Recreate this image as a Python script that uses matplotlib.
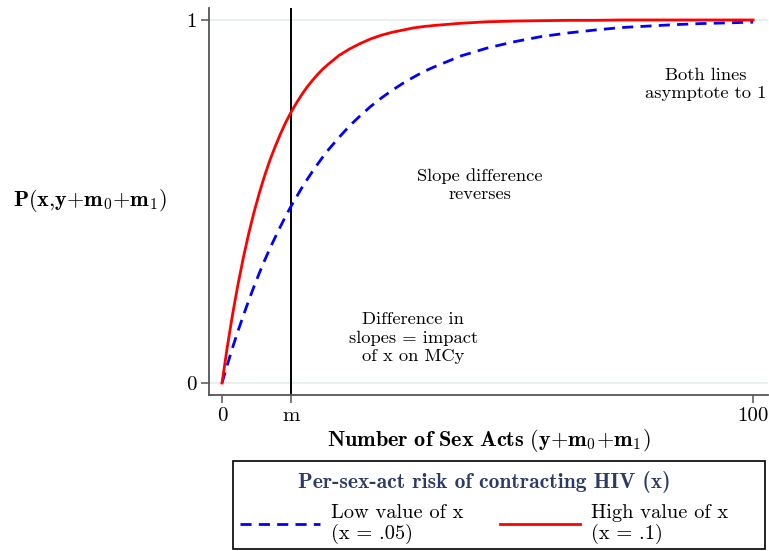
import matplotlib
matplotlib.use("Agg")
import matplotlib.pyplot as plt
from matplotlib.lines import Line2D
from matplotlib.patches import Rectangle

plt.rcParams["font.family"] = "cmr10"
plt.rcParams["mathtext.fontset"] = "cm"
plt.rcParams["axes.formatter.use_mathtext"] = True

# Number of sex acts and cumulative probability of infection for each per-act risk
acts = [0, 1, 2, 3, 4, 5, 6, 7, 8, 9, 10, 11, 12, 13, 14, 15, 16, 17, 18, 19,
        20, 22, 24, 26, 28, 30, 32, 34, 36, 38, 40, 45, 50, 55, 60, 65, 70,
        75, 80, 85, 90, 95, 100]
p_low = [0, .050, .098, .143, .185, .226, .265, .302, .337, .370, .401, .431,
         .460, .487, .512, .537, .560, .582, .603, .623, .642, .676, .708,
         .736, .762, .785, .806, .825, .842, .858, .871, .901, .923, .940,
         .954, .964, .972, .979, .983, .987, .990, .992, .994]
p_high = [0, .100, .190, .271, .344, .410, .469, .522, .570, .613, .651, .686,
          .718, .746, .771, .794, .815, .833, .850, .865, .878, .902, .920,
          .935, .948, .958, .966, .972, .978, .982, .985, .991, .995, .997,
          .998, .999, .999, 1.0, 1.0, 1.0, 1.0, 1.0, 1.0]
m_value = 13

x_ticks = [0, m_value, 100]
x_tick_labels = ["0", "m", "100"]
y_ticks = [0, 1]
y_tick_labels = ["0", "1"]

label_low = "Low value of x\n(x = .05)"
label_high = "High value of x\n(x = .1)"
legend_title = "Per-sex-act risk of contracting HIV (x)"

W, H = 769, 551
fig = plt.figure(figsize=(W / 100, H / 100), dpi=100)
ax = fig.add_axes([209 / W, 1 - 395 / H, (768 - 209) / W, (395 - 8) / H])

ax.set_xlim(-2.45, 102.8)
ax.set_ylim(-0.033, 1.033)

for yv in y_ticks:
    ax.axhline(yv, color="#e8efef", lw=1.5, zorder=0)

ax.axvline(m_value, color="black", lw=1.4, zorder=2)

dash = (0, (4, 2.6))
ax.plot(acts, p_low, color="#0000ff", lw=2.0, ls=dash, zorder=3)
ax.plot(acts, p_high, color="#ff0000", lw=2.0, zorder=4)

for side in ["top", "right"]:
    ax.spines[side].set_visible(False)
for side in ["left", "bottom"]:
    ax.spines[side].set_color("#555555")
    ax.spines[side].set_linewidth(1.3)

ax.set_xticks(x_ticks)
ax.set_xticklabels(x_tick_labels)
ax.set_yticks(y_ticks)
ax.set_yticklabels(y_tick_labels)
ax.tick_params(axis="both", labelsize=15, length=6, width=1.1, color="#555555",
               direction="out", pad=3)
ax.tick_params(axis="x", pad=3)

ax.set_xlabel(r"$\mathbf{Number\ of\ Sex\ Acts\ (y{+}m_0{+}m_1)}$", fontsize=16,
              labelpad=1)
ax.set_ylabel(r"$\mathbf{P(x{,}y{+}m_0{+}m_1)}$", fontsize=16, rotation=0,
              ha="center", va="center")
ax.yaxis.set_label_coords((90 - 209) / (768 - 209), (395 - 200) / (395 - 8))

txt = dict(fontsize=13.3, ha="center", va="center", linespacing=1.25)
ax.text(91, 0.823, "Both lines\nasymptote to 1", **txt)
ax.text(48.6, 0.545, "Slope difference\nreverses", **txt)
ax.text(36, 0.124, "Difference in\nslopes = impact\nof x on MCy", **txt)

# Legend box drawn as a figure-level rectangle, contents placed inside it
box_left, box_top, box_right, box_bottom = 233, 461, 765, 549
fig.patches.append(Rectangle((box_left / W, 1 - box_bottom / H),
                             (box_right - box_left) / W,
                             (box_bottom - box_top) / H,
                             transform=fig.transFigure, fill=False,
                             edgecolor="black", lw=1.2))

handles = [
    Line2D([], [], color="#0000ff", lw=2.0, ls=dash),
    Line2D([], [], color="#ff0000", lw=2.0),
]
leg = fig.legend(handles, [label_low, label_high], ncol=2,
                 loc="upper left", bbox_to_anchor=(236 / W, 1 - 467 / H),
                 frameon=False,
                 fontsize=14.7, title=legend_title, title_fontsize=15.5,
                 handlelength=3.9, handletextpad=0.55, columnspacing=1.8,
                 borderpad=0.2, labelspacing=0.55, borderaxespad=0)
t = leg.get_title()
t.set_fontfamily("cmb10")
t.set_color("#2b3a67")
for lt in leg.get_texts():
    lt.set_linespacing(1.1)

fig.savefig("out.png", dpi=100)
